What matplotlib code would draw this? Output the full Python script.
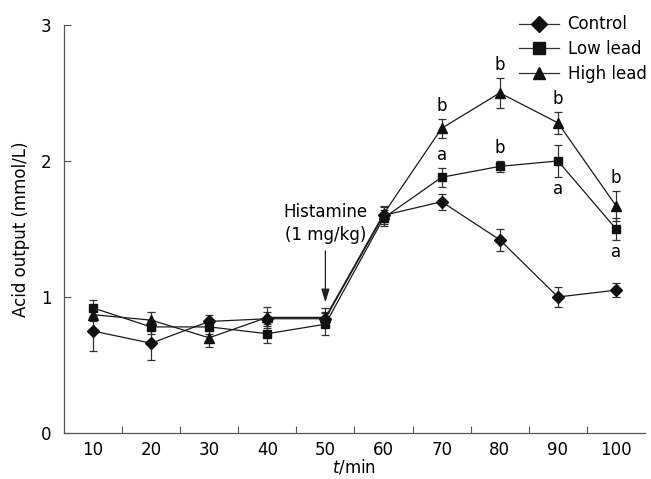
import matplotlib
matplotlib.use("Agg")
import matplotlib.pyplot as plt
from matplotlib.ticker import FixedLocator
from matplotlib.lines import Line2D

plt.rcParams['font.family'] = ['DejaVu Sans']

times = [10, 20, 30, 40, 50, 60, 70, 80, 90, 100]
control = [0.75, 0.66, 0.82, 0.84, 0.84, 1.60, 1.70, 1.42, 1.00, 1.05]
control_err = [0.15, 0.12, 0.05, 0.05, 0.05, 0.06, 0.06, 0.08, 0.07, 0.05]
low_lead = [0.92, 0.78, 0.78, 0.73, 0.80, 1.58, 1.88, 1.96, 2.00, 1.50]
low_err = [0.06, 0.05, 0.05, 0.07, 0.08, 0.06, 0.07, 0.04, 0.12, 0.08]
high_lead = [0.87, 0.83, 0.70, 0.85, 0.85, 1.61, 2.24, 2.50, 2.28, 1.67]
high_err = [0.05, 0.06, 0.07, 0.08, 0.07, 0.06, 0.07, 0.11, 0.08, 0.11]

sig_high = ['', '', '', '', '', '', 'b', 'b', 'b', 'b']
sig_low = ['', '', '', '', '', '', 'a', 'b', 'a', 'a']
sig_low_pos = ['', '', '', '', '', '', 'above', 'above', 'below', 'below']

FS = 12
fig = plt.figure(figsize=(6.51, 4.79), dpi=100)
ax = fig.add_axes([0.098, 0.096, 0.893, 0.852])

xpos = list(range(1, len(times) + 1))
series = [
    (control, control_err, 'D', 6, 'Control'),
    (low_lead, low_err, 's', 6, 'Low lead'),
    (high_lead, high_err, '^', 7, 'High lead'),
]
handles = []
for vals, errs, mk, ms, lab in series:
    ax.errorbar(xpos, vals, yerr=errs, color='#1a1a1a', ecolor='#333333',
                elinewidth=0.9, capsize=3, capthick=0.9, lw=0.9,
                marker=mk, ms=ms, mfc='#111111', mec='#111111')
    handles.append(Line2D([], [], color='#333333', lw=0.9, marker=mk,
                          ms=ms + 2, mfc='#111111', mec='#111111', label=lab))

for i, s in enumerate(sig_high):
    if s:
        ax.text(xpos[i], high_lead[i] + high_err[i] + 0.03, s, ha='center', va='bottom', fontsize=FS)
for i, s in enumerate(sig_low):
    if s:
        if sig_low_pos[i] == 'above':
            ax.text(xpos[i], low_lead[i] + low_err[i] + 0.03, s, ha='center', va='bottom', fontsize=FS)
        else:
            ax.text(xpos[i], low_lead[i] - low_err[i] - 0.02, s, ha='center', va='top', fontsize=FS)

ax.annotate('', xy=(5, 0.94), xytext=(5, 1.36),
            arrowprops=dict(arrowstyle='-|>,head_length=0.8,head_width=0.25',
                            color='#222222', lw=0.9))
ax.text(5, 1.54, 'Histamine\n(1 mg/kg)', ha='center', va='center', fontsize=FS, linespacing=1.3)

ax.set_xlim(0.5, 10.5)
ax.set_ylim(0, 3)
ax.set_xticks(xpos)
ax.set_xticklabels([str(t) for t in times])
ax.xaxis.set_minor_locator(FixedLocator([i + 0.5 for i in range(1, 10)]))
ax.tick_params(axis='x', which='major', length=0, labelsize=FS, pad=6)
ax.tick_params(axis='x', which='minor', direction='in', length=5, width=0.8, color='#555555')
ax.set_yticks([0, 1, 2, 3])
ax.tick_params(axis='y', direction='in', length=5, width=0.8, color='#555555', labelsize=FS, pad=9)
for sp in ['top', 'right']:
    ax.spines[sp].set_visible(False)
for sp in ['left', 'bottom']:
    ax.spines[sp].set_color('#555555')
    ax.spines[sp].set_linewidth(0.9)

ax.set_xlabel(r'$t$/min', fontsize=FS, labelpad=-1)
ax.set_ylabel('Acid output (mmol/L)', fontsize=FS, labelpad=8)

leg = ax.legend(handles=handles, loc='upper right', bbox_to_anchor=(1.028, 1.06), frameon=False,
                fontsize=FS, handlelength=2.4, handletextpad=0.5, labelspacing=0.4)

fig.savefig('out.png', dpi=100)
